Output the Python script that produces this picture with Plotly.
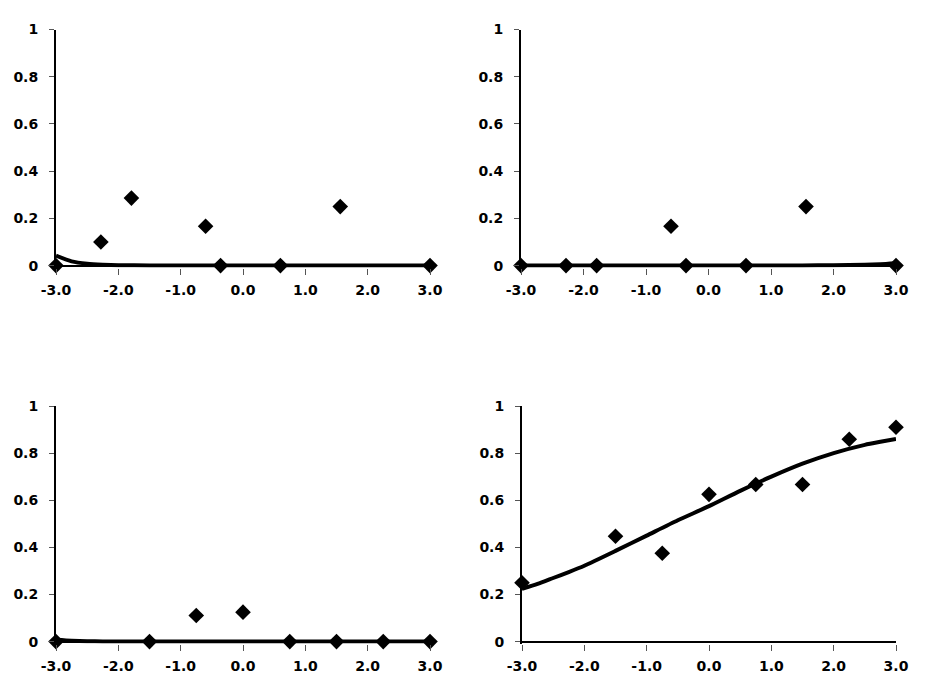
import plotly.graph_objects as go

# ---- data ----
# panel 1 (top-left) and panel 2 (top-right) share x positions
x_top = [-3.0, -2.28, -1.79, -0.60, -0.36, 0.60, 1.56, 3.0]
y_p1 = [0.0, 0.10, 0.286, 0.167, 0.0, 0.0, 0.25, 0.0]
y_p2 = [0.0, 0.0, 0.0, 0.167, 0.0, 0.0, 0.25, 0.0]

# panel 3 (bottom-left) and panel 4 (bottom-right)
x_bot = [-3.0, -1.5, -0.75, 0.0, 0.75, 1.5, 2.25, 3.0]
y_p3 = [0.0, 0.0, 0.111, 0.125, 0.0, 0.0, 0.0, 0.0]
y_p4 = [0.25, 0.447, 0.375, 0.625, 0.667, 0.667, 0.859, 0.91]

# fitted curves
cx = [-3.0, -2.75, -2.5, -2.25, -2.0, -1.5, -1.0, -0.5, 0.0, 0.5, 1.0, 1.5, 2.0, 2.5, 2.75, 3.0]
c_p1 = [0.042, 0.018, 0.008, 0.004, 0.002, 0.0005, 0.0, 0.0, 0.0, 0.0, 0.0, 0.0, 0.0, 0.0, 0.0, 0.0]
c_p2 = [0.0, 0.0, 0.0, 0.0, 0.0, 0.0, 0.0, 0.0, 0.0, 0.0, 0.0005, 0.001, 0.002, 0.004, 0.006, 0.01]
c_p3 = [0.008, 0.004, 0.002, 0.001, 0.0005, 0.0, 0.0, 0.0, 0.0, 0.0, 0.0, 0.0, 0.0, 0.0, 0.0, 0.0]
c_p4 = [0.224, 0.245, 0.27, 0.295, 0.322, 0.385, 0.45, 0.515, 0.575, 0.64, 0.70, 0.755, 0.80, 0.835, 0.848, 0.86]

x_ticks = [-3, -2, -1, 0, 1, 2, 3]
x_tick_text = ["-3.0", "-2.0", "-1.0", "0.0", "1.0", "2.0", "3.0"]
y_ticks = [0, 0.2, 0.4, 0.6, 0.8, 1.0]
y_tick_text = ["0", "0.2", "0.4", "0.6", "0.8", "1"]

panels = [
    (x_top, y_p1, c_p1),
    (x_top, y_p2, c_p2),
    (x_bot, y_p3, c_p3),
    (x_bot, y_p4, c_p4),
]

W, H = 933, 689
OFF = 8  # page body margin offset
# plot-area pixel boxes in window coords: (left, right, top, bottom)
boxes = [
    (56, 430, 29.5, 267.5),
    (521, 896, 29.5, 267.5),
    (56, 430, 406, 643.5),
    (522, 896, 406, 643.5),
]

fig = go.Figure()
for i, (px, py, cy) in enumerate(panels):
    sfx = "" if i == 0 else str(i + 1)
    fig.add_trace(go.Scatter(
        x=cx, y=cy, mode="lines", line=dict(color="black", width=4, shape="spline", smoothing=0.6),
        xaxis="x" + sfx, yaxis="y" + sfx, showlegend=False, cliponaxis=False, hoverinfo="skip"))
    fig.add_trace(go.Scatter(
        x=px, y=py, mode="markers",
        marker=dict(symbol="diamond", size=12, color="black"),
        xaxis="x" + sfx, yaxis="y" + sfx, showlegend=False, cliponaxis=False))

font = dict(family="'DejaVu Sans', Verdana, sans-serif", size=14, color="black", weight="bold")
layout = dict(
    width=W, height=H, margin=dict(l=0, r=0, t=0, b=0, autoexpand=False),
    paper_bgcolor="white", plot_bgcolor="white", showlegend=False,
)
for i, (l, r, t, b) in enumerate(boxes):
    sfx = "" if i == 0 else str(i + 1)
    l, r, t, b = l - OFF, r - OFF, t - OFF, b - OFF
    layout["xaxis" + sfx] = dict(
        domain=[l / W, r / W], range=[-3, 3], anchor="y" + sfx, automargin=False,
        tickvals=x_ticks, ticktext=x_tick_text, ticks="outside", ticklen=6,
        tickwidth=1, tickcolor="#555", showgrid=False, zeroline=False,
        showline=False, tickfont=font, ticklabelstandoff=4,
    )
    layout["yaxis" + sfx] = dict(
        domain=[1 - b / H, 1 - t / H], range=[-0.008, 1], anchor="x" + sfx, automargin=False,
        tickvals=y_ticks, ticktext=y_tick_text, ticks="outside", ticklen=5,
        tickwidth=1, tickcolor="#555", showgrid=False,
        zeroline=True, zerolinecolor="black", zerolinewidth=2,
        showline=True, linecolor="black", linewidth=2, tickfont=font,
        ticklabelstandoff=8,
    )
fig.update_layout(**layout)
fig.write_html("out.html")
